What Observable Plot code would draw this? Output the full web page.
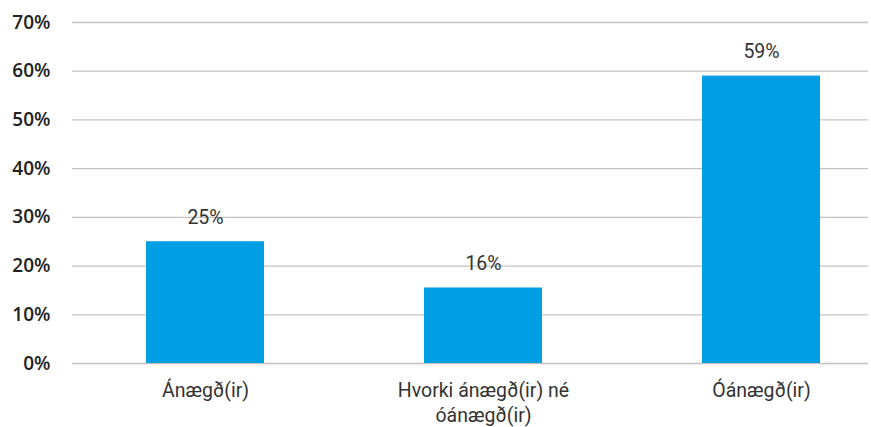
<!DOCTYPE html>
<html><head><meta charset="utf-8">
<script src="https://cdn.jsdelivr.net/npm/d3@7"></script>
<script src="https://cdn.jsdelivr.net/npm/@observablehq/plot@0.6"></script>
<style>body{margin:0;background:#fff}</style>
</head><body><div id="chart"></div>
<script>
const categories = ["Ánægð(ir)", "Hvorki ánægð(ir) né óánægð(ir)", "Óánægð(ir)"];
const tickLabels = ["Ánægð(ir)", "Hvorki ánægð(ir) né\nóánægð(ir)", "Óánægð(ir)"];
const values = [0.25, 0.155, 0.59];
const valueLabels = ["25%", "16%", "59%"];
const yTicks = [0, 0.1, 0.2, 0.3, 0.4, 0.5, 0.6, 0.7];

const data = categories.map((c, i) => ({cat: c, value: values[i], label: valueLabels[i], tick: tickLabels[i]}));

const chart = Plot.plot({
  width: 871, height: 427,
  marginTop: 22, marginBottom: 64, marginLeft: 72, marginRight: 3,
  style: {fontFamily: "Roboto, 'Open Sans', sans-serif", background: "#fff"},
  x: {domain: categories, range: [-15, 981], paddingInner: 0.576, paddingOuter: 0.576, axis: null},
  y: {domain: [0, 0.7], axis: null},
  marks: [
    Plot.ruleY(yTicks, {stroke: "#c3c3c3", strokeWidth: 1.3}),
    Plot.barY(data, {x: "cat", y: "value", fill: "#009fe3"}),
    Plot.text(data, {x: "cat", y: "value", text: "label", dy: -24, fontSize: 19.5, fill: "#333", fontFamily: "Roboto, sans-serif"}),
    Plot.text(data, {x: "cat", y: 0, text: "tick", dy: 15, lineAnchor: "top", lineHeight: 1.3, fontSize: 19.5, fill: "#333", fontFamily: "Roboto, sans-serif"}),
    Plot.text(yTicks, {x: null, y: d => d, text: d => Math.round(d * 100) + "%", frameAnchor: "left", textAnchor: "end", dx: -22, fontSize: 19, fontWeight: 600, fill: "#222", fontFamily: "'Open Sans', sans-serif"})
  ]
});
document.getElementById("chart").appendChild(chart);
</script></body></html>
